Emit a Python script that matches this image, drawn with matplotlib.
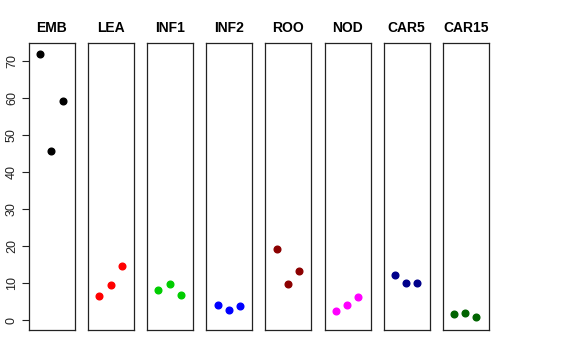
import matplotlib.pyplot as plt

plt.rcParams['font.family'] = ['Liberation Sans', 'DejaVu Sans']

# Panel names, colours and the three values in each
groups = ['EMB', 'LEA', 'INF1', 'INF2', 'ROO', 'NOD', 'CAR5', 'CAR15']
colors = ['black', 'red', '#00CD00', 'blue', '#8B0000', 'magenta', '#00008B', '#006400']
values = [
    [72.0, 45.7, 59.2],
    [6.4, 9.4, 14.7],
    [8.2, 9.7, 6.8],
    [4.0, 2.6, 3.7],
    [19.2, 9.7, 13.2],
    [2.4, 4.1, 6.1],
    [12.1, 10.1, 9.9],
    [1.5, 1.9, 0.9],
]
xpos = [1, 2, 3]

W, H = 576, 360
fig = plt.figure(figsize=(W / 100, H / 100), dpi=100)

left0, width, step = 29, 46, 59.1
top, bottom = 43, 330

for i, (name, col, vals) in enumerate(zip(groups, colors, values)):
    ax = fig.add_axes([(left0 + i * step) / W, (H - bottom) / H,
                       width / W, (bottom - top) / H])
    ax.plot(xpos, vals, 'o', color=col, ms=4.8, ls='none')
    ax.set_xlim(0.0, 4.1)
    ax.set_ylim(-2.7, 74.9)
    ax.set_xticks([])
    ax.set_title(name, fontsize=10, fontweight='bold', pad=8)
    for s in ax.spines.values():
        s.set_linewidth(0.9)
        s.set_color('#222222')
    if i == 0:
        ax.set_yticks(range(0, 71, 10))
        ax.tick_params(axis='y', length=5, width=0.8, labelsize=9,
                       colors='#222222', pad=3)
        for lab in ax.get_yticklabels():
            lab.set_rotation(90)
            lab.set_va('center')
    else:
        ax.set_yticks([])

fig.savefig('out.png', dpi=100)
